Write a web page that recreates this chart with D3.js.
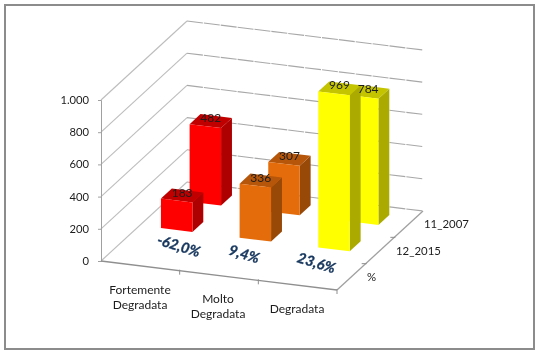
<!doctype html>
<html>
  <head>
    <script src="https://d3js.org/d3.v7.min.js"></script>
    <style>
      html, body { margin: 0; padding: 0; background: #fff; }
      svg { filter: blur(0.35px); }
      text { font-family: Lato, "Open Sans", sans-serif; fill: #1c1c1c; }
    </style>
  </head>
  <body>
    <div id="chart"></div>
    <script>
      var categories = ["Fortemente Degradata", "Molto Degradata", "Degradata"];
      var seriesNames = ["%", "12_2015", "11_2007"];
      var values2015 = [183, 336, 969];
      var values2007 = [482, 307, 784];
      var percents = ["-62,0%", "9,4%", "23,6%"];
      var valueTicks = [0, 200, 400, 600, 800, 1000];

      var frontColors = ["#ff0000", "#e46c0a", "#ffff00"];
      var sideColors = ["#ad0000", "#984807", "#aaaa00"];
      var topColors = ["#c00000", "#b5560b", "#c4c400"];

      var width = 539, height = 355;

      // oblique projection of the 3d box: u along categories, d into the depth
      var uX = d3.scaleLinear().domain([0, 3]).range([0, 236]);
      var uY = d3.scaleLinear().domain([0, 3]).range([0, 29]);
      var dX = d3.scaleLinear().domain([0, 3]).range([0, 86]);
      var dY = d3.scaleLinear().domain([0, 3]).range([0, -79]);
      var yScale = d3.scaleLinear().domain([0, 1000]).range([261, 100]);

      function pt(u, d, v) {
        return [101 + uX(u) + dX(d), yScale(v) + uY(u) + dY(d)];
      }

      var line = d3.line();
      var svg = d3.select("#chart").append("svg")
        .attr("width", width)
        .attr("height", height)
        .style("display", "block");

      // outer frame
      svg.append("rect")
        .attr("x", 5).attr("y", 5)
        .attr("width", 529).attr("height", 344)
        .attr("fill", "#fff")
        .attr("stroke", "#8c8c8c")
        .attr("stroke-width", 2);

      // walls: left wall solid, back wall a bit broken up
      valueTicks.forEach(function(v) {
        svg.append("path")
          .attr("d", line([pt(0, 0, v), pt(0, 3, v)]))
          .attr("fill", "none").attr("stroke", "#bdbdbd").attr("stroke-width", 1.1);
        svg.append("path")
          .attr("d", line([pt(0, 3, v), pt(3, 3, v)]))
          .attr("fill", "none").attr("stroke", "#a8a8a8").attr("stroke-width", 1.1)
          .attr("stroke-dasharray", "16 1");
      });

      // value axis
      var axis = d3.axisLeft(yScale)
        .tickValues(valueTicks)
        .tickSize(3)
        .tickPadding(9)
        .tickFormat(function(d) { return d3.format(",")(d).replace(",", "."); });
      var axisG = svg.append("g").attr("transform", "translate(101,0)").call(axis);
      axisG.selectAll("path, line").attr("stroke", "#a0a0a0");
      axisG.selectAll("text").style("font-size", "11.2px").attr("fill", "#1c1c1c");

      // floor edges
      svg.append("path")
        .attr("d", line([pt(0, 0, 0), pt(3, 0, 0)]))
        .attr("fill", "none").attr("stroke", "#8f8f8f").attr("stroke-width", 1.3);
      svg.append("path")
        .attr("d", line([pt(3, 0, 0), pt(3, 3, 0)]))
        .attr("fill", "none").attr("stroke", "#a0a0a0").attr("stroke-width", 1.3);

      d3.range(1, 4).forEach(function(i) {
        var p = pt(i, 0, 0);
        svg.append("line")
          .attr("x1", p[0]).attr("y1", p[1] - 1)
          .attr("x2", p[0]).attr("y2", p[1] + 4)
          .attr("stroke", "#8f8f8f");
      });
      d3.range(1, 3).forEach(function(i) {
        var p = pt(3, i, 0);
        svg.append("line")
          .attr("x1", p[0] - 4).attr("y1", p[1])
          .attr("x2", p[0] + 1).attr("y2", p[1])
          .attr("stroke", "#8f8f8f");
      });

      // bars, back row first so the front row covers it
      var barU = 0.27, barW = 0.4, barD = 0.38, rowStart = 0.35;
      var bars = [];
      values2007.forEach(function(v, i) { bars.push({ cat: i, row: 2, value: v }); });
      values2015.forEach(function(v, i) { bars.push({ cat: i, row: 1, value: v }); });

      var barG = svg.selectAll(".bar").data(bars).enter().append("g").attr("class", "bar");

      function quad(a, b, c, e) { return line([a, b, c, e]) + "Z"; }

      barG.append("path")
        .attr("fill", function(b) { return sideColors[b.cat]; })
        .attr("d", function(b) {
          var u = b.cat + barU + barW, d = b.row + rowStart;
          return quad(pt(u, d, 0), pt(u, d + barD, 0), pt(u, d + barD, b.value), pt(u, d, b.value));
        });
      barG.append("path")
        .attr("fill", function(b) { return topColors[b.cat]; })
        .attr("d", function(b) {
          var u = b.cat + barU, d = b.row + rowStart;
          return quad(pt(u, d, b.value), pt(u + barW, d, b.value), pt(u + barW, d + barD, b.value), pt(u, d + barD, b.value));
        });
      barG.append("path")
        .attr("fill", function(b) { return frontColors[b.cat]; })
        .attr("d", function(b) {
          var u = b.cat + barU, d = b.row + rowStart;
          return quad(pt(u, d, 0), pt(u + barW, d, 0), pt(u + barW, d, b.value), pt(u, d, b.value));
        });

      // value labels sit on the top face
      svg.selectAll(".val").data(bars).enter().append("text")
        .attr("class", "val")
        .attr("text-anchor", "middle")
        .attr("dominant-baseline", "middle")
        .style("font-size", "12px")
        .attr("x", function(b) { return pt(b.cat + barU + barW / 2, b.row + rowStart + barD / 2, b.value)[0]; })
        .attr("y", function(b) { return pt(b.cat + barU + barW / 2, b.row + rowStart + barD / 2, b.value)[1] - 2; })
        .text(function(b) { return b.value; });

      // percent labels on the floor
      var percentU = [0.7, 1.53, 2.45];
      svg.selectAll(".pct").data(percents).enter().append("text")
        .attr("class", "pct")
        .attr("text-anchor", "middle")
        .attr("dominant-baseline", "middle")
        .attr("transform", function(d, i) {
          var p = pt(percentU[i], 0.78, 0);
          return "translate(" + p[0] + "," + p[1] + ") rotate(17)";
        })
        .style("font-size", "14.5px")
        .style("font-weight", "bold")
        .style("font-style", "italic")
        .style("fill", "#17375e")
        .style("stroke", "#17375e")
        .style("stroke-width", "0.35px")
        .text(function(d) { return d; });

      // category labels
      var catX = [140, 218, 297];
      var catY = [294, 303, 313];
      categories.forEach(function(c, i) {
        var words = c.split(" ");
        var t = svg.append("text")
          .attr("text-anchor", "middle")
          .style("font-size", "12px");
        words.forEach(function(w, j) {
          t.append("tspan")
            .attr("x", catX[i])
            .attr("y", catY[i] + j * 15)
            .text(w);
        });
      });

      // depth axis labels
      var seriesX = [367, 396, 424];
      var seriesY = [281, 255, 228];
      seriesNames.forEach(function(s, i) {
        svg.append("text")
          .attr("x", seriesX[i])
          .attr("y", seriesY[i])
          .style("font-size", "11.4px")
          .text(s);
      });
    </script>
  </body>
</html>
